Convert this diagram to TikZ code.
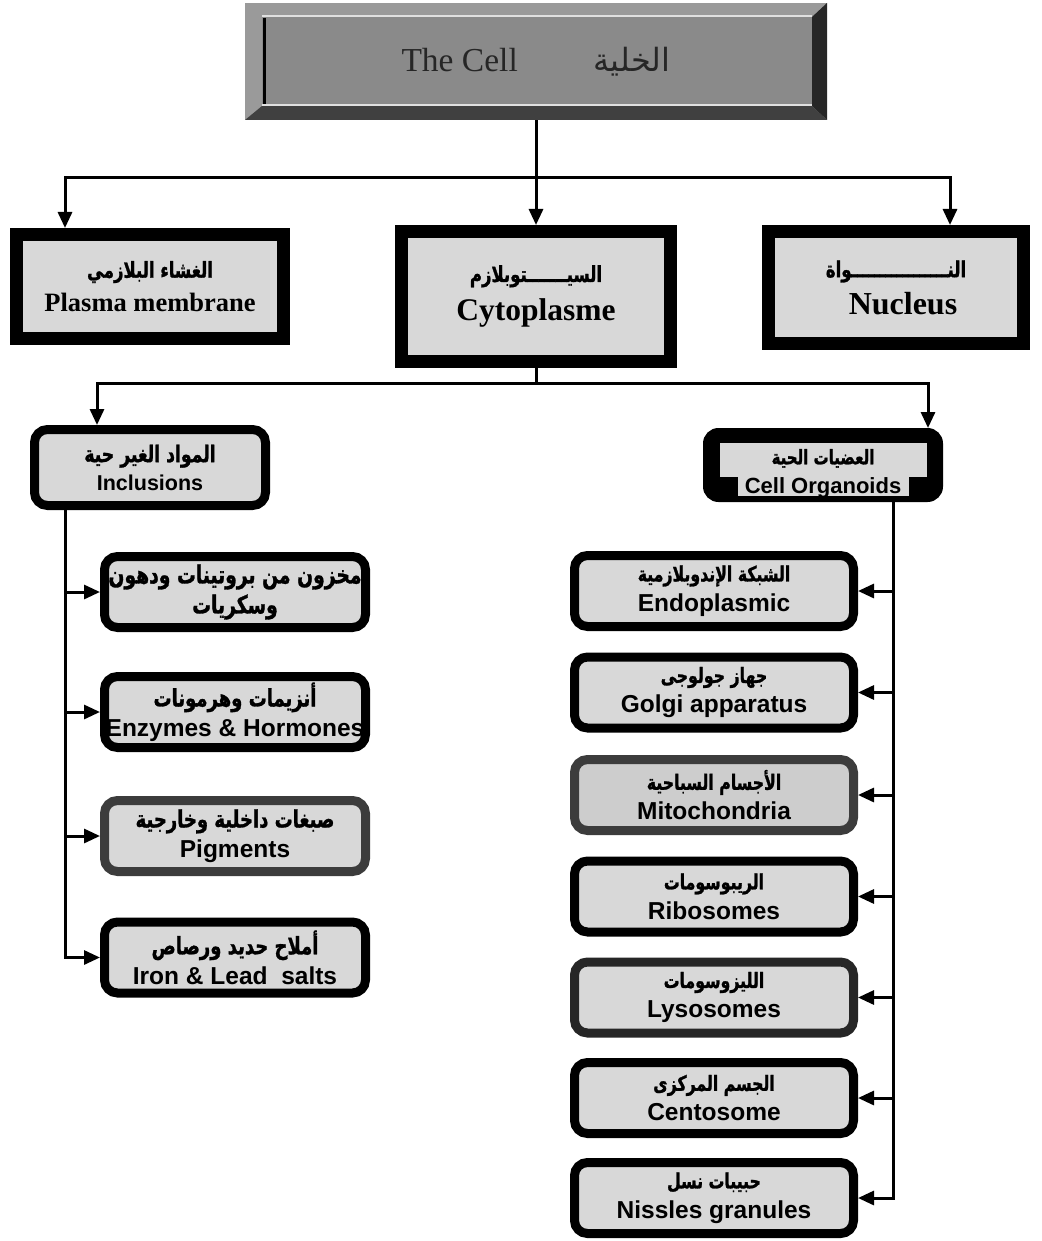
\documentclass[tikz,border=0pt]{standalone}
\usepackage{fontspec}
\setmainfont{Liberation Serif}
\newfontfamily\arfont[Script=Arabic]{DejaVu Sans}
\newfontfamily\arbold[Script=Arabic,FakeStretch=0.75,FakeBold=1.2,UprightFont=* Bold]{DejaVu Sans}
\newfontfamily\ensans{Liberation Sans}
\TeXXeTstate=1
\usetikzlibrary{arrows.meta}
\newcommand\AR[2][20]{{\arbold\fontsize{#1}{#1}\selectfont\beginR #2\endR}}
\newcommand\ARn[2][32]{{\arfont\fontsize{#1}{#1}\selectfont\beginR #2\endR}}
\definecolor{boxfill}{HTML}{D8D8D8}
\definecolor{boxfillb}{HTML}{CDCDCD}
\definecolor{darkedge}{HTML}{3C3C3C}
\definecolor{framegray}{HTML}{9A9A9A}
\definecolor{innergray}{HTML}{8A8A8A}
\begin{document}
\begin{tikzpicture}[x=1pt,y=-1pt,
  lnk/.style={line width=3pt},
  arr/.style={line width=3pt,-{Triangle[length=16pt,width=14pt]}},
  sq/.style={rectangle,draw=black,line width=13pt,fill=boxfill,inner sep=0pt,align=center},
  rb/.style={rectangle,rounded corners=13pt,draw=black,line width=9pt,fill=boxfill,inner sep=0pt,align=center},
  lbox/.style={rb,minimum width=261pt,minimum height=71pt,font=\ensans\bfseries\fontsize{24.5}{30}\selectfont},
  rbox/.style={rb,minimum width=279pt,minimum height=71pt,font=\ensans\bfseries\fontsize{24.5}{30}\selectfont},
  grayedge/.style={draw=darkedge}
]
\useasboundingbox (0,0) rectangle (1041,1241);
\fill[white] (0,0) rectangle (1041,1241);

% ---- top bevelled frame ----
\fill[framegray] (245,3) rectangle (827,120);
\fill[black!85] (827,3) -- (827,120) -- (812,106) -- (812,17) -- cycle;
\fill[black!75] (245,120) -- (827,120) -- (812,106) -- (262,106) -- cycle;
\fill[innergray] (262,17) rectangle (812,106);
\draw[white!88!black,line width=2pt] (262,16) -- (812,16);
\draw[white!88!black,line width=2pt] (262,105) -- (812,105);
\draw[black,line width=3pt] (264,18) -- (264,104);
\node[minimum width=582pt,minimum height=117pt,inner sep=0pt,text=black!85,
      font=\fontsize{33.5}{36}\selectfont] (cell) at (536,61.5)
      {The Cell\hspace{76pt}\ARn[32]{الخلية}};

% ---- level 2 ----
\node[sq,minimum width=267pt,minimum height=104pt,font=\bfseries\fontsize{26.5}{34}\selectfont] (pm) at (150,286.5)
  {\AR[22]{الغشاء البلازمي}\\Plasma membrane};
\node[sq,minimum width=269pt,minimum height=130pt,font=\bfseries\fontsize{31.5}{39}\selectfont] (cyto) at (536,296.5)
  {\AR[22]{السيـــــــتوبلازم}\\Cytoplasme};
\node[sq,minimum width=255pt,minimum height=112pt,font=\bfseries\fontsize{32}{37}\selectfont] (nuc) at (896,287.5)
  {\AR[22]{النـــــــــــــــــواة}\\\hspace*{14pt}Nucleus};

% ---- level 3 ----
\node[rb,minimum width=231pt,minimum height=76pt,font=\ensans\bfseries\fontsize{21.5}{28}\selectfont] (incl) at (150,467.5)
  {\AR[23]{المواد الغير حية}\\Inclusions};
\node[rectangle,rounded corners=14pt,fill=black,draw=black,line width=3pt,minimum width=237pt,minimum height=71pt,
  inner sep=0pt,align=center,font=\ensans\bfseries\fontsize{22}{30}\selectfont,
  path picture={
    \fill[boxfill,sharp corners] ([shift={(15pt,-13pt)}]path picture bounding box.north west) rectangle ([shift={(-15pt,5pt)}]path picture bounding box.south east);
    \fill[black,sharp corners] ([shift={(15pt,5pt)}]path picture bounding box.south west) rectangle ([shift={(33pt,24pt)}]path picture bounding box.south west);
    \fill[black,sharp corners] ([shift={(-15pt,5pt)}]path picture bounding box.south east) rectangle ([shift={(-33pt,24pt)}]path picture bounding box.south east);
  }] (org) at (823,465)
  {\raisebox{-13pt}[0pt][0pt]{\begin{tabular}{@{}c@{}}\AR[20]{العضيات الحية}\\[-1pt]Cell Organoids\end{tabular}}};

% ---- inclusions children ----
\node[lbox] (l1) at (235,592) {\AR[25]{مخزون من بروتينات ودهون}\\\AR[25]{وسكريات}};
\node[lbox] (l2) at (235,712) {\AR[24]{أنزيمات وهرمونات}\\Enzymes \& Hormones};
\node[lbox,grayedge] (l3) at (235,836) {\AR[24]{صبغات داخلية وخارجية}\\Pigments};
\node[lbox] (l4) at (235,957.5) {\AR[24]{أملاح حديد ورصاص}\\Iron \& Lead\ \ salts};

% ---- organoids children ----
\node[rbox] (r1) at (714,591) {\AR[21]{الشبكة الإندوبلازمية}\\Endoplasmic};
\node[rbox] (r2) at (714,692.5) {\AR[21]{جهاز جولوجى}\\Golgi apparatus};
\node[rbox,grayedge,fill=boxfillb] (r3) at (714,795) {\AR[21]{الأجسام السباحية}\\Mitochondria};
\node[rbox] (r4) at (714,896.5) {\AR[21]{الريبوسومات}\\Ribosomes};
\node[rbox,draw=black!85] (r5) at (714,997.5) {\AR[21]{الليزوسومات}\\Lysosomes};
\node[rbox] (r6) at (714,1098) {\AR[21]{الجسم المركزى}\\Centosome};
\node[rbox] (r7) at (714,1198) {\AR[21]{حبيبات نسل}\\Nissles granules};

% ---- connectors ----
\coordinate (s1) at (536,178);
\draw[lnk] (cell.south) -- (s1);
\draw[arr] (s1) -| ([xshift=-85pt]pm.north);
\draw[arr] (s1) -- (cyto.north);
\draw[arr] (s1) -| ([xshift=54pt]nuc.north);

\coordinate (s2) at (536,383);
\draw[lnk] (cyto.south) -- (s2);
\draw[arr] (s2) -| ([xshift=-53pt]incl.north);
\draw[arr] (s2) -| ([xshift=105pt]org.north);

\coordinate (lt) at ([xshift=-85pt]incl.south);
\draw[arr] (lt) |- (l4.west);
\foreach \n in {l1,l2,l3} \draw[arr] (lt |- \n.west) -- (\n.west);

\coordinate (rt) at ([xshift=70pt]org.south);
\draw[arr] (rt) |- (r7.east);
\foreach \n in {r1,r2,r3,r4,r5,r6} \draw[arr] (rt |- \n.east) -- (\n.east);
\end{tikzpicture}
\end{document}
